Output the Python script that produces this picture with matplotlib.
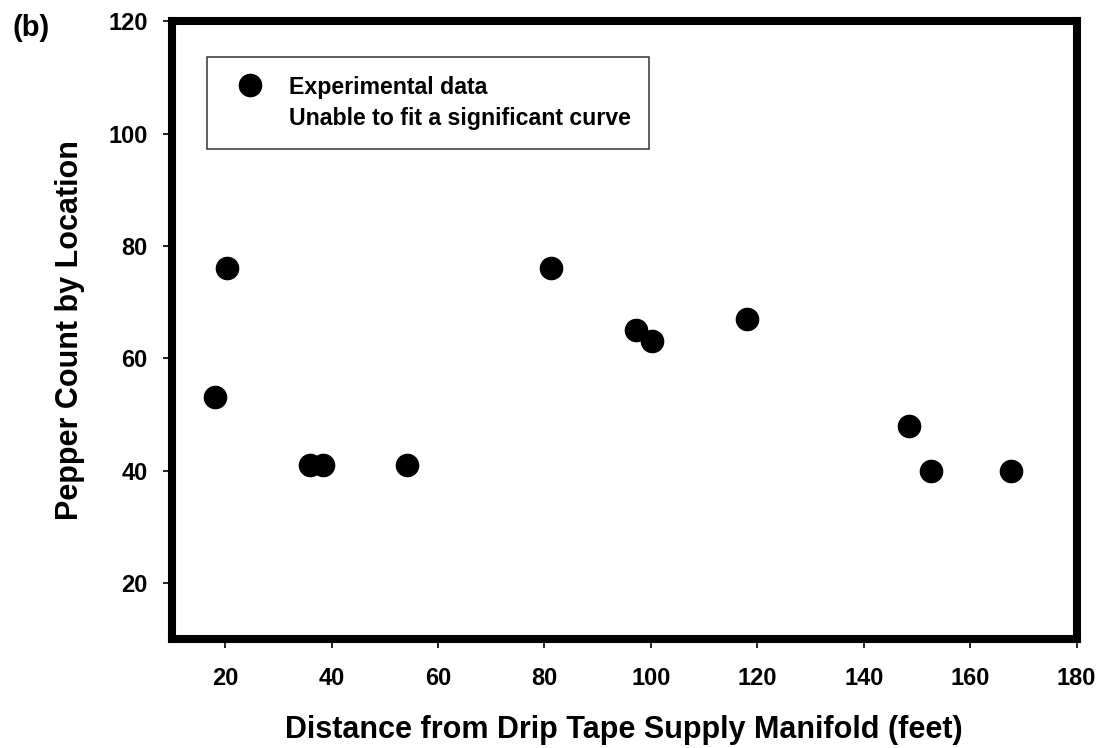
import matplotlib
matplotlib.use("Agg")
import matplotlib.pyplot as plt
from matplotlib.lines import Line2D

plt.rcParams['font.family'] = ['Liberation Sans', 'DejaVu Sans']
plt.rcParams['font.weight'] = 'bold'

# distance (feet) vs pepper count
distance = [18.1, 20.4, 36.0, 38.4, 54.2, 81.3, 97.2, 100.3, 118.1, 148.6, 152.7, 167.7]
count = [53, 76, 41, 41, 41, 76, 65, 63, 67, 48, 40, 40]

xticks = [20, 40, 60, 80, 100, 120, 140, 160, 180]
yticks = [20, 40, 60, 80, 100, 120]

fig = plt.figure(figsize=(11.03, 7.48), dpi=100)
ax = fig.add_axes([0.156, 0.1457, 0.820, 0.826])

ax.plot(distance, count, linestyle='none', marker='o', markersize=16,
        color='black', zorder=3)

ax.set_xlim(10, 180)
ax.set_ylim(10, 120)
ax.set_xticks(xticks)
ax.set_yticks(yticks)

for s in ax.spines.values():
    s.set_linewidth(5.8)
    s.set_capstyle('projecting')

ax.tick_params(axis='both', direction='out', length=6.5, width=1.2,
               labelsize=17, color='black')
ax.tick_params(axis='x', pad=14)
ax.tick_params(axis='y', pad=11)

ax.set_xlabel('Distance from Drip Tape Supply Manifold (feet)',
              fontsize=22, fontweight='bold', labelpad=18)
ax.set_ylabel('Pepper Count by Location', fontsize=22, fontweight='bold',
              labelpad=17)

handles = [Line2D([], [], linestyle='none', marker='o', markersize=16, color='black'),
           Line2D([], [], linestyle='none')]
labels = ['Experimental data', 'Unable to fit a significant curve']
leg = ax.legend(handles, labels, loc='upper left', bbox_to_anchor=(0.0387, 0.942),
                borderaxespad=0, borderpad=0.8, handlelength=2.1,
                handletextpad=0.62, labelspacing=0.37, fancybox=False,
                prop={'size': 16.7, 'weight': 'bold'})
leg.get_frame().set_edgecolor('black')
leg.get_frame().set_linewidth(1.1)

fig.text(0.011, 0.962, '(b)', fontsize=21, fontweight='bold', va='center', ha='left')

fig.savefig('out.png', dpi=100)
